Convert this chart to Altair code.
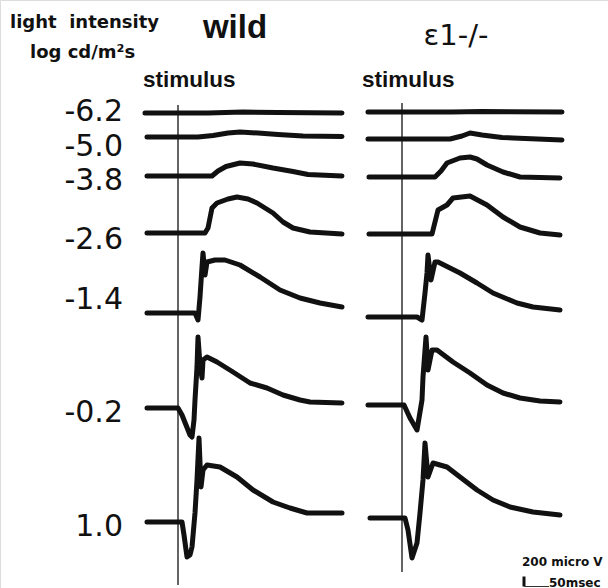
import altair as alt
import pandas as pd

# ---------------- data ----------------
LEVELS = ["-6.2", "-5.0", "-3.8", "-2.6", "-1.4", "-0.2", "1.0"]   # log cd/m²s
GROUPS = ["wild", "ε1-/-"]

# ERG traces: (time after stimulus [ms], response [µV]) for each intensity, wild type
WILD = [
    [(-66, 0), (0, 0), (60, 0), (130, 20), (200, 10), (328, 0)],
    [(-62, 0), (40, 0), (70, 30), (100, 80), (124, 100), (160, 80), (200, 50), (250, 20), (328, 10)],
    [(-62, 0), (68, 0), (80, 100), (96, 190), (124, 260), (150, 240), (190, 160), (230, 90), (260, 30), (328, 0)],
    [(-62, 0), (54, 0), (60, 100), (68, 500), (78, 600), (100, 680), (118, 720), (140, 680), (158, 600),
     (190, 400), (210, 220), (230, 100), (264, 20), (328, -20)],
    [(-62, 0), (34, 0), (40, -140), (44, 320), (48, 920), (50, 1200), (54, 760), (58, 1020), (74, 1060),
     (94, 1060), (124, 960), (164, 720), (204, 460), (244, 300), (284, 200), (328, 120)],
    [(-62, 0), (0, 0), (8, -140), (24, -540), (28, -580), (32, -240), (34, 160), (38, 820), (40, 1420),
     (44, 860), (48, 600), (50, 960), (58, 1020), (78, 920), (110, 720), (144, 500), (178, 400),
     (210, 260), (244, 160), (264, 120), (328, 100)],
    [(-62, 0), (8, 0), (12, -260), (18, -700), (24, -660), (28, -500), (34, 180), (38, 840), (42, 1680),
     (46, 700), (50, 1040), (58, 1140), (84, 1100), (118, 900), (150, 640), (190, 400), (224, 280),
     (258, 180), (328, 180)],
]

# ERG traces, ε1-/-
KO = [
    [(-68, 0), (100, 0), (160, 10), (320, 0)],
    [(-68, 0), (96, 0), (120, 60), (136, 120), (160, 80), (200, 30), (222, 20), (320, -20)],
    [(-66, 0), (66, 0), (78, 120), (90, 280), (116, 380), (136, 400), (150, 360), (170, 240), (202, 100),
     (236, 0), (316, -20)],
    [(-66, 0), (60, 0), (72, 480), (90, 580), (102, 720), (136, 760), (170, 580), (202, 340), (236, 140),
     (276, 20), (316, -20)],
    [(-68, 0), (30, 0), (40, -60), (46, 480), (50, 880), (52, 1240), (58, 740), (66, 1100), (72, 1100),
     (116, 880), (150, 680), (182, 480), (230, 280), (262, 200), (316, 140)],
    [(-68, 0), (4, 0), (16, -260), (30, -500), (40, 100), (42, 560), (48, 1360), (52, 700), (60, 1100),
     (70, 1100), (102, 860), (136, 640), (170, 400), (202, 240), (236, 140), (276, 80), (316, 60)],
    [(-64, 0), (6, 0), (12, -240), (20, -800), (30, -500), (36, 100), (42, 760), (46, 1500), (52, 820),
     (62, 1100), (90, 1020), (116, 820), (150, 560), (182, 360), (216, 220), (262, 120), (316, 60)],
]

SCALE_UV = 200   # scale bar, µV
SCALE_MS = 50    # scale bar, ms

# ---------------- layout (data units: ms across, µV up) ----------------
WILD_BASE = [9500, 9020, 8240, 7100, 5500, 3600, 1320]
KO_BASE = [9520, 8980, 8220, 7080, 5420, 3660, 1400]
PANEL_SHIFT = 448
X_DOM = [-356, 860]
Y_DOM = [0, 11760]

rows = []
for g, traces, base, shift in [(GROUPS[0], WILD, WILD_BASE, 0), (GROUPS[1], KO, KO_BASE, PANEL_SHIFT)]:
    for lvl, pts, b in zip(LEVELS, traces, base):
        for i, (t, v) in enumerate(pts):
            rows.append(dict(key=f"{g}{lvl}", i=i, t=t, uv=v, x=t + shift, y=v + b))
df = pd.DataFrame(rows)

X = alt.Scale(domain=X_DOM, nice=False, zero=False)
Y = alt.Scale(domain=Y_DOM, nice=False, zero=False)
xe = lambda f: alt.X(f, type="quantitative", scale=X, axis=None)
ye = lambda f: alt.Y(f, type="quantitative", scale=Y, axis=None)

lines = alt.Chart(df).mark_line(
    color="#111", strokeWidth=5, strokeCap="round", strokeJoin="round"
).encode(x=xe("x"), y=ye("y"), detail="key:N", order="i:Q")

stim = pd.DataFrame({"x": [0, PANEL_SHIFT], "y": [60, 320], "y2": [9660, 9700]})
stim_rules = alt.Chart(stim).mark_rule(color="#111", strokeWidth=1.3).encode(
    x=xe("x"), y=ye("y"), y2="y2"
)

lab = pd.DataFrame({"text": LEVELS, "x": [-110] * 7,
                    "y": [9520, 8820, 8140, 6960, 5760, 3500, 1220]})
labels = alt.Chart(lab).mark_text(
    align="right", baseline="middle", font="DejaVu Sans", fontSize=30, color="#111"
).encode(x=xe("x"), y=ye("y"), text="text:N")


def txt(s, x, y, font, size, weight="normal", align="left"):
    d = pd.DataFrame({"text": [s], "x": [x], "y": [y]})
    return alt.Chart(d).mark_text(
        align=align, baseline="alphabetic", font=font, fontSize=size, fontWeight=weight, color="#111"
    ).encode(x=xe("x"), y=ye("y"), text="text:N")


headers = [
    txt("light\u00a0 intensity", -336, 11200, "DejaVu Sans", 18, "bold"),
    txt("log cd/m²s", -296, 10600, "DejaVu Sans", 18, "bold"),
    txt(GROUPS[0], 114, 11000, "Liberation Sans", 33, "bold", "center"),
    txt(GROUPS[1], 556, 10860, "DejaVu Sans", 29, "normal", "center"),
    txt("stimulus", -70, 10020, "Liberation Sans", 22.5, "bold"),
    txt("stimulus", 368, 10020, "Liberation Sans", 22.5, "bold"),
    txt(f"{SCALE_UV} micro V", 688, 440, "DejaVu Sans", 12, "bold"),
    txt(f"{SCALE_MS}msec", 742, 30, "DejaVu Sans", 12, "bold"),
]

sb_v = pd.DataFrame({"x": [692], "y": [30], "y2": [30 + SCALE_UV]})
sb_h = pd.DataFrame({"x": [692], "x2": [692 + SCALE_MS], "y": [30]})
bar_v = alt.Chart(sb_v).mark_rule(color="#111", strokeWidth=3).encode(x=xe("x"), y=ye("y"), y2="y2")
bar_h = alt.Chart(sb_h).mark_rule(color="#333", strokeWidth=1).encode(x=xe("x"), x2="x2", y=ye("y"))

chart = alt.layer(lines, stim_rules, labels, *headers, bar_v, bar_h).properties(
    width=608, height=588, padding=0, autosize=alt.AutoSizeParams(type="none")
).configure_view(stroke=None).configure(background="white")

chart.save("out.html", embed_options={"renderer": "svg", "actions": False})
